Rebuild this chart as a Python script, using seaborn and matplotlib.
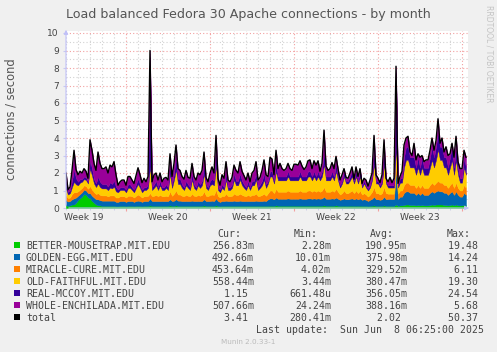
import numpy as np
import pandas as pd
import matplotlib
matplotlib.use("Agg")
import matplotlib.pyplot as plt
import seaborn as sns
from matplotlib.patches import Rectangle
from matplotlib.transforms import blended_transform_factory
from matplotlib.ticker import MultipleLocator, FixedLocator

# ---------------- data ----------------
title = "Load balanced Fedora 30 Apache connections - by month"
ylabel = "connections / second"
week_labels = ["Week 19", "Week 20", "Week 21", "Week 22", "Week 23"]

series_names = ["BETTER-MOUSETRAP.MIT.EDU", "GOLDEN-EGG.MIT.EDU", "MIRACLE-CURE.MIT.EDU",
                "OLD-FAITHFUL.MIT.EDU", "REAL-MCCOY.MIT.EDU", "WHOLE-ENCHILADA.MIT.EDU"]
cur_vals = ["256.83m", "492.66m", "453.64m", "558.44m", "1.15 ", "507.66m", "3.41 "]
min_vals = ["2.28m", "10.01m", "4.02m", "3.44m", "661.48u", "24.24m", "280.41m"]
avg_vals = ["190.95m", "375.98m", "329.52m", "380.47m", "356.05m", "388.16m", "2.02 "]
max_vals = ["19.48 ", "14.24 ", "6.11 ", "19.30 ", "24.54 ", "5.68 ", "50.37 "]
last_update = "Last update:  Sun Jun  8 06:25:00 2025"

# sample times, hours since the left edge of the graph (4-hour steps)
hours = np.arange(0, 801, 4)

better_mousetrap = [
    .15,.12,.15,.20,.20,.30,.45,.55,.65,.80,
    .75,.60,.55,.40,.30,.20,.15,.15,.12,.12,
    .12,.12,.12,.12,.12,.10,.10,.12,.12,.12,
    .10,.12,.12,.12,.10,.12,.12,.12,.10,.12,
    .12,.12,.15,.12,.12,.12,.12,.12,.12,.12,
    .12,.12,.15,.12,.12,.15,.12,.12,.12,.12,
    .12,.12,.12,.12,.12,.12,.12,.12,.12,.15,
    .12,.12,.12,.12,.12,.15,.12,.10,.12,.12,
    .12,.12,.12,.12,.12,.12,.12,.12,.12,.12,
    .12,.12,.12,.12,.12,.12,.12,.12,.12,.12,
    .12,
    .12,.13,.13,.12,.15,.13,.13,.13,.13,.13,
    .13,.13,.13,.13,.13,.13,.13,.13,.13,.13,
    .13,.13,.13,.13,.13,.13,.13,.13,.15,.13,
    .13,.13,.13,.13,.15,.13,.12,.12,.13,.12,
    .12,.13,.13,.12,.13,.12,.13,.12,.12,.12,
    .10,.12,.13,.15,.12,.12,.12,.12,.15,.12,
    .12,.12,.12,.12,.20,.12,.15,.15,.17,.20,
    .20,.17,.17,.17,.15,.17,.15,.17,.15,.15,
    .15,.17,.20,.17,.20,.20,.20,.20,.17,.17,
    .15,.17,.20,.15,.20,.15,.15,.15,.17,.15]
golden_egg = [
    .30,.25,.25,.30,.35,.30,.25,.25,.25,.25,
    .25,.25,.30,.30,.30,.30,.35,.30,.30,.30,
    .30,.30,.30,.30,.30,.25,.25,.28,.28,.28,
    .25,.28,.28,.28,.25,.28,.30,.28,.25,.28,
    .28,.28,.40,.28,.28,.28,.28,.28,.28,.28,
    .28,.28,.35,.28,.30,.35,.30,.30,.28,.28,
    .28,.28,.28,.30,.28,.28,.28,.28,.28,.35,
    .28,.28,.28,.30,.28,.40,.28,.25,.28,.28,
    .30,.28,.28,.28,.30,.28,.28,.30,.28,.28,
    .28,.28,.28,.28,.28,.30,.28,.28,.28,.30,
    .28,
    .38,.42,.42,.38,.45,.40,.40,.40,.40,.40,
    .42,.40,.40,.40,.40,.40,.42,.40,.40,.40,
    .42,.42,.40,.42,.40,.42,.40,.42,.50,.40,
    .40,.40,.42,.40,.45,.40,.35,.38,.42,.38,
    .38,.40,.42,.38,.42,.38,.42,.35,.38,.35,
    .30,.35,.40,.50,.38,.38,.35,.38,.50,.38,
    .40,.40,.40,.40,2.00,.40,.50,.50,.70,.75,
    .75,.70,.70,.70,.60,.70,.60,.70,.60,.60,
    .60,.70,.75,.70,.75,.80,.75,.75,.70,.70,
    .60,.70,.75,.60,.75,.60,.50,.50,.70,.60]
miracle_cure = [
    .25,.20,.20,.30,.35,.30,.25,.25,.25,.25,
    .25,.25,.40,.35,.30,.30,.35,.30,.30,.30,
    .30,.25,.30,.30,.30,.25,.25,.28,.28,.28,
    .25,.30,.30,.28,.25,.30,.35,.30,.25,.28,
    .28,.30,.30,.28,.30,.35,.28,.35,.28,.28,
    .30,.28,.45,.30,.40,.50,.35,.35,.30,.28,
    .35,.30,.28,.40,.30,.28,.35,.30,.35,.45,
    .30,.28,.35,.35,.35,.50,.28,.25,.30,.28,
    .40,.28,.28,.30,.40,.35,.35,.40,.35,.30,
    .28,.35,.28,.35,.35,.40,.28,.30,.35,.40,
    .30,
    .35,.45,.45,.35,.50,.40,.40,.40,.40,.40,
    .45,.40,.40,.40,.40,.40,.45,.40,.40,.40,
    .45,.45,.40,.45,.40,.45,.40,.45,.55,.40,
    .40,.40,.45,.40,.50,.40,.30,.35,.45,.35,
    .35,.40,.45,.35,.45,.35,.45,.30,.35,.30,
    .25,.30,.40,.55,.35,.35,.30,.35,.55,.35,
    .30,.30,.30,.30,.30,.30,.35,.35,.45,.50,
    .50,.45,.45,.45,.40,.45,.40,.45,.40,.40,
    .40,.45,.50,.45,.50,.55,.50,.50,.45,.45,
    .40,.45,.50,.40,.50,.40,.35,.35,.45,.40]
old_faithful = [
    .40,.20,.25,.40,.60,.45,.35,.40,.35,.35,
    .35,.30,1.00,.80,.50,.40,.55,.45,.40,.40,
    .40,.35,.45,.40,.50,.35,.30,.35,.35,.35,
    .30,.45,.45,.35,.30,.45,.60,.45,.30,.35,
    .35,.45,1.50,.35,.45,.55,.35,.55,.35,.35,
    .45,.35,1.00,.45,.80,1.20,.60,.60,.45,.35,
    .55,.45,.35,.80,.45,.35,.55,.45,.55,1.00,
    .45,.35,.55,.60,.55,1.40,.35,.30,.45,.35,
    .80,.35,.35,.45,.80,.55,.55,.80,.55,.45,
    .35,.55,.35,.55,.55,.80,.35,.45,.55,.80,
    .45,
    .55,.80,.80,.55,1.00,.65,.65,.65,.65,.65,
    .80,.65,.65,.65,.65,.65,.80,.65,.65,.65,
    .80,.80,.65,.80,.65,.80,.65,.80,1.30,.65,
    .65,.65,.80,.65,1.00,.65,.40,.55,.80,.55,
    .55,.65,.80,.55,.80,.55,.80,.40,.55,.40,
    .35,.40,.65,1.30,.55,.55,.40,.55,1.30,.55,
    .35,.35,.35,.35,1.00,.35,.45,.45,1.00,1.30,
    1.30,1.00,1.00,1.00,.75,1.00,.75,1.00,.75,.75,
    .75,1.00,1.30,1.00,1.30,1.80,1.30,1.30,1.00,1.00,
    .75,1.00,1.30,.75,1.30,.75,.45,.45,1.00,.75]
real_mccoy = [
    .40,.15,.15,.35,.70,.35,.20,.20,.15,.15,
    .15,.10,.50,.40,.25,.20,.40,.30,.25,.25,
    .25,.20,.30,.25,.35,.25,.15,.15,.15,.15,
    .15,.20,.20,.15,.15,.20,.30,.20,.15,.15,
    .15,.20,6.25,.15,.20,.25,.15,.25,.15,.15,
    .20,.15,.50,.20,.35,.70,.30,.30,.20,.15,
    .25,.20,.15,.35,.20,.15,.25,.20,.25,.50,
    .20,.15,.25,.30,.25,.90,.15,.15,.20,.15,
    .35,.15,.15,.20,.35,.25,.25,.35,.25,.20,
    .15,.25,.15,.25,.25,.35,.15,.20,.25,.35,
    .20,
    .15,.30,.30,.15,.40,.22,.22,.22,.22,.22,
    .30,.22,.22,.22,.22,.22,.30,.22,.22,.22,
    .30,.30,.22,.30,.22,.30,.22,.30,.70,.22,
    .22,.22,.30,.22,.40,.22,.13,.15,.30,.15,
    .15,.22,.30,.15,.30,.15,.30,.13,.15,.13,
    .10,.13,.22,.70,.15,.15,.13,.15,.70,.15,
    .13,.13,.13,.13,4.20,.13,.25,.25,.58,.75,
    .75,.58,.58,.58,.40,.58,.40,.58,.40,.40,
    .40,.58,.75,.58,.75,1.00,.75,.75,.58,.58,
    .40,.58,.75,.40,.75,.40,.25,.25,.58,.40]
whole_enchilada = [
    .50,.13,.20,.60,1.10,.50,.40,.45,.35,.45,
    .35,.20,1.15,1.05,.90,.75,1.40,1.05,.88,.88,
    .98,.78,.98,.98,1.08,.70,.25,.32,.42,.42,
    .25,.45,.45,.42,.35,.50,.63,.55,.40,.52,
    .32,.45,.40,.32,.55,.45,.42,.45,.32,.52,
    .40,.42,.65,.45,.58,.70,.58,.48,.45,.47,
    .60,.40,.52,.58,.45,.42,.45,.55,.60,.75,
    .40,.32,.45,.68,.45,.80,.52,.25,.55,.52,
    .68,.42,.32,.40,.48,.60,.45,.68,.55,.50,
    .42,.45,.32,.45,.60,.68,.42,.40,.60,.78,
    .55,
    .25,.80,.70,.35,.80,.45,.75,.45,.35,.45,
    .45,.45,.35,.70,.70,.65,.60,.60,.40,.55,
    .60,.65,.45,.60,.65,.60,.30,.45,1.25,.60,
    .35,.45,.50,.45,.45,.45,.30,.35,.15,.20,
    .15,.20,.25,.10,.25,.25,.15,.10,.15,.30,
    .15,.30,.20,.95,.35,.15,.15,.35,.70,.15,
    .20,.45,.15,.40,.40,.10,.10,.40,.70,.50,
    .60,.30,.10,.80,.45,.20,.60,.10,.35,.45,
    .45,.40,.50,.40,.35,.75,.20,.50,.30,.60,
    .70,.20,.20,.60,.60,.35,.55,.55,.40,.60]

layers = [better_mousetrap, golden_egg, miracle_cure, old_faithful, real_mccoy, whole_enchilada]
colors = ["#00CC00", "#0066B3", "#FF8000", "#FFCC00", "#330099", "#990099"]
total = np.sum(np.array(layers), axis=0)

# ---------------- figure ----------------
W, H = 497, 352
BG = "#F0F0F0"
TXT = "#444444"
fig = plt.figure(figsize=(W / 100, H / 100), dpi=100, facecolor=BG)

def fx(px):
    return px / W

def fy(py):
    return 1 - py / H

ax = fig.add_axes([fx(66), fy(208), (468 - 66) / W, (208 - 31) / H])
ax.set_facecolor("white")

polys = ax.stackplot(hours, layers, colors=colors, linewidth=0)
for p, c in zip(polys, colors):
    p.set_edgecolor(c)
    p.set_linewidth(0.3)

df = pd.DataFrame({"hours": hours, "total": total})
sns.lineplot(data=df, x="hours", y="total", color="black", linewidth=1.0, ax=ax, legend=False)
ax.set_xlabel("")
ax.set_ylabel("")

ax.set_xlim(0, 804)
ax.set_ylim(0, 10 * (208 - 31) / 175)

ax.xaxis.set_major_locator(FixedLocator([120, 288, 456, 624, 792]))
ax.xaxis.set_minor_locator(MultipleLocator(24))
ax.yaxis.set_major_locator(MultipleLocator(1))
ax.yaxis.set_minor_locator(MultipleLocator(0.5))
ax.set_axisbelow(True)
ax.grid(which="major", color="#F2A0A0", linestyle=(0, (1, 2)), linewidth=0.8)
ax.grid(which="minor", color="#D2D2D2", linestyle=(0, (1, 2)), linewidth=0.8)
ax.set_xticklabels([])
ax.tick_params(axis="x", which="major", length=2.5, color="#F2A0A0", direction="out")
ax.tick_params(axis="x", which="minor", length=1.5, color="#C8C8E8", direction="out")
ax.tick_params(axis="y", which="major", length=2, color="#C8C8F0", pad=3,
               labelsize=6.6, labelcolor=TXT)
ax.tick_params(axis="y", which="minor", length=0)
for s in ax.spines.values():
    s.set_visible(False)

# axis arrows
axis_col = "#C0C0F8"
ax.annotate("", xy=(0, (208 - 27) / 177), xytext=(0, 0), xycoords="axes fraction",
            arrowprops=dict(arrowstyle="-|>", color=axis_col, lw=0.8, mutation_scale=6),
            annotation_clip=False)
ax.annotate("", xy=((472 - 66) / 402, 0), xytext=(0, 0), xycoords="axes fraction",
            arrowprops=dict(arrowstyle="-|>", color=axis_col, lw=0.8, mutation_scale=6),
            annotation_clip=False)

# week labels (centred on each week)
trans = blended_transform_factory(ax.transData, fig.transFigure)
for k, lab in enumerate(week_labels):
    ax.text(36 + 168 * k, fy(220), lab, transform=trans, ha="center", va="baseline",
            fontsize=6.6, color=TXT)

# title / labels
fig.text(fx(248.5), fy(18.3), title, ha="center", va="baseline", fontsize=9.1, color="#555555")
fig.text(fx(11), fy(119), ylabel, ha="center", va="center", rotation=90, fontsize=8.3, color="#555555")
fig.text(fx(488.5), fy(5), "RRDTOOL / TOBI OETIKER", ha="center", va="top", rotation=270,
         fontsize=5.5, color="#C4C4C4")

# legend
mono = "DejaVu Sans Mono"
fs = 7.1
for hdr, xr in zip(["Cur:", "Min:", "Avg:", "Max:"], [241, 318, 394, 471]):
    fig.text(fx(xr), fy(237.3), hdr, ha="right", va="baseline", family=mono, fontsize=fs, color=TXT)

names = series_names + ["total"]
sq_colors = colors + ["#000000"]
for i, (nm, c) in enumerate(zip(names, sq_colors)):
    base = 249 + 12 * i
    fig.add_artist(Rectangle((fx(14), fy(base - 1.5)), 6 / W, 6 / H, transform=fig.transFigure,
                             facecolor=c, edgecolor="none"))
    fig.text(fx(26), fy(base), nm, ha="left", va="baseline", family=mono, fontsize=fs, color=TXT)
    for vals, xr in zip([cur_vals, min_vals, avg_vals, max_vals], [254, 331, 407, 484]):
        fig.text(fx(xr), fy(base), vals[i], ha="right", va="baseline", family=mono,
                 fontsize=fs, color=TXT)

fig.text(fx(484), fy(333), last_update, ha="right", va="baseline", family=mono, fontsize=fs, color=TXT)
fig.text(fx(248), fy(344), "Munin 2.0.33-1", ha="center", va="baseline", fontsize=5.2, color="#BBBBBB")

fig.savefig("out.png", dpi=100, facecolor=BG)
